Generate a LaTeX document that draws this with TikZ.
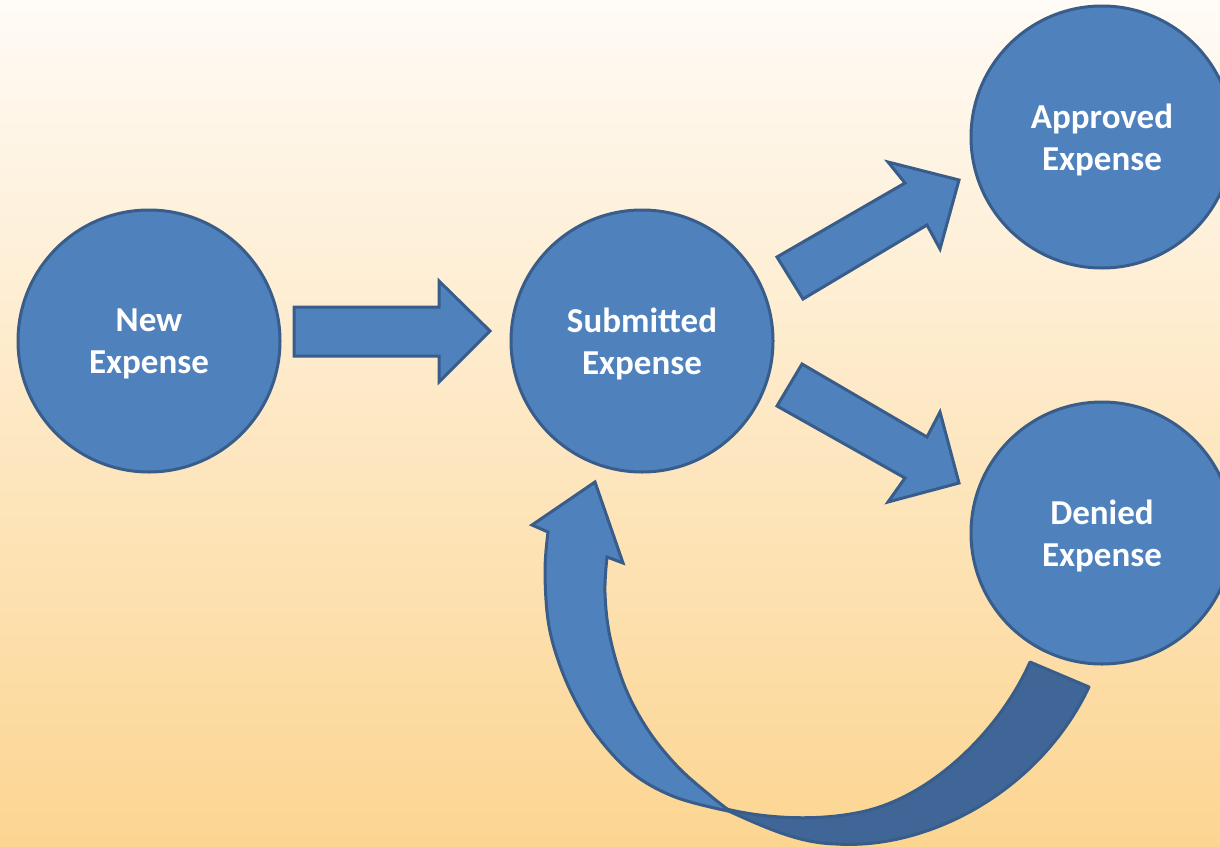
\documentclass[tikz,border=0pt]{standalone}
\usepackage{fontspec}
\setmainfont{Carlito}
\definecolor{bgtop}{RGB}{255,251,246}
\definecolor{bgbot}{RGB}{252,213,145}
\definecolor{blfill}{RGB}{79,129,189}
\definecolor{bledge}{RGB}{56,93,138}
\definecolor{bldark}{RGB}{63,102,150}
\begin{document}
\begin{tikzpicture}[x=0.5pt,y=-0.5pt,
  state/.style={circle,fill=blfill,draw=bledge,line width=1.5pt,minimum size=131pt,inner sep=0pt,
    text=white,font=\fontsize{17.5pt}{21pt}\selectfont\bfseries,align=center,text depth=0pt},
  blockarrow/.style={fill=blfill,draw=bledge,line width=1.5pt,line join=miter},
  darkband/.style={fill=bldark,draw=bledge,line width=1.5pt,line join=round}]
\clip (0,0) rectangle (1220,846);
\shade[top color=bgtop,bottom color=bgbot] (0,0) rectangle (1220,846);
\node[state] (new) at (149,341) {New\\Expense};
\node[state] (sub) at (642,341) {Submitted\\Expense};
\node[state] (app) at (1102,137) {Approved\\Expense};
\node[state] (den) at (1102,533) {Denied\\Expense};
% straight arrow new -> submitted
\draw[blockarrow] (294,307) -- (439,307) -- (439,281) -- (490,331) -- (439,382) -- (439,356) -- (294,356) -- cycle;
% arrow submitted -> approved
\draw[blockarrow] (777,257) -- (905,183) -- (888,162) -- (959,180) -- (940,249) -- (927,225) -- (803,299) -- cycle;
% arrow submitted -> denied
\draw[blockarrow] (802,364) -- (927,437) -- (940,412) -- (959,483) -- (888,502) -- (905,478) -- (777,406) -- cycle;
% curved return arrow denied -> submitted
\draw[darkband] (1030,662) .. controls (1000,730) and (930,800) .. (856,813)
  .. controls (820,820) and (770,820) .. (722,808)
  .. controls (770,830) and (800,843) .. (836,844)
  .. controls (930,850) and (1040,790) .. (1089,687) -- cycle;
\draw[blockarrow,line join=miter]
  plot[smooth,tension=0.6] coordinates {(728,811) (675,797) (632,773) (598,737) (575,700) (558,660) (548,620) (545,570) (548,532)}
  -- (532,525) -- (595,482) -- (623,563) -- (607,557)
  -- plot[smooth,tension=0.6] coordinates {(607,557) (605,593) (610,637) (625,687) (648,730) (678,767) (712,797) (730,811)}
  -- cycle;
\end{tikzpicture}
\end{document}
